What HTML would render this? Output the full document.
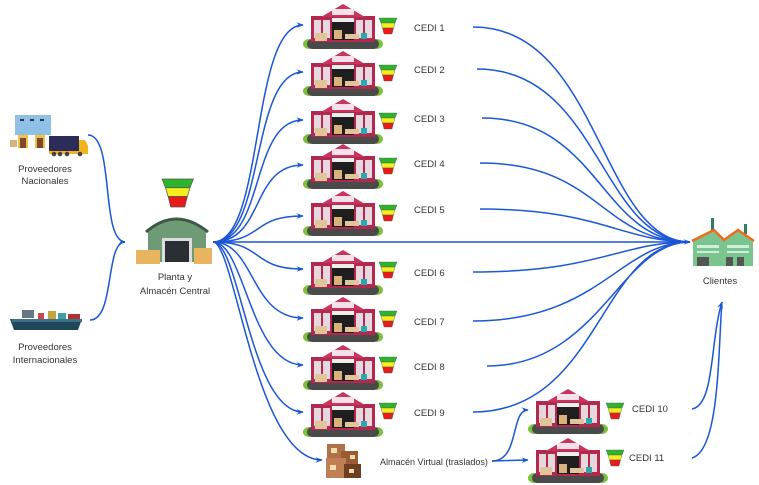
<!DOCTYPE html>
<html><head><meta charset="utf-8"><style>
body{margin:0;background:#fff}
svg{display:block}
text{font-family:"Liberation Sans",sans-serif;font-size:9.5px;fill:#333}
</style></head><body>
<svg width="759" height="485" viewBox="0 0 759 485" xmlns="http://www.w3.org/2000/svg">
<defs>
<marker id="ar" viewBox="0 0 10 10" refX="9" refY="5" markerWidth="7" markerHeight="7" orient="auto-start-reverse" markerUnits="userSpaceOnUse"><path d="M0,1 L10,5 L0,9 L3,5z" fill="#1a56d6"/></marker>
<g id="wh">
<ellipse cx="6" cy="40" rx="6" ry="5" fill="#7cc13c"/>
<ellipse cx="74" cy="40" rx="6" ry="5" fill="#7cc13c"/>
<rect x="4" y="35" width="72" height="10" rx="5" fill="#4a4a4a"/>
<rect x="8" y="12" width="64" height="26" fill="#b3284f"/>
<polygon points="18,13 40,0 62,13" fill="#c8345c"/>
<rect x="29" y="5" width="22" height="6" fill="#f6e1ea"/>
<rect x="11" y="16" width="7" height="18" fill="#e7d8df"/>
<rect x="20" y="16" width="7" height="18" fill="#e7d8df"/>
<rect x="53" y="16" width="7" height="18" fill="#e7d8df"/>
<rect x="62" y="16" width="7" height="18" fill="#e7d8df"/>
<rect x="29" y="14" width="22" height="4" fill="#eee"/>
<rect x="29" y="18" width="22" height="18" fill="#1e1e1e"/>
<rect x="31" y="26" width="8" height="9" fill="#d9b27c"/>
<rect x="12" y="29" width="12" height="8" fill="#e0c49a"/>
<rect x="42" y="30" width="14" height="5" fill="#e0c49a"/>
<rect x="58" y="29" width="6" height="6" fill="#2aa9a9"/>
</g>
<g id="fn">
<polygon points="0,0 18,0 16,5 2,5" fill="#2cb52c" stroke="#555" stroke-width=".4"/>
<polygon points="2,5 16,5 14.5,10 3.5,10" fill="#f2ef1a" stroke="#555" stroke-width=".4"/>
<polygon points="3.5,10 14.5,10 13,16 5,16" fill="#e81a1a" stroke="#555" stroke-width=".4"/>
</g>
</defs>

<g fill="none" stroke="#1a56d6" stroke-width="1.5">
<path d="M88,135 C115,135 100,240 125,242" marker-end="url(#ar)"/>
<path d="M90,320 C115,320 105,242 125,242"/>
<path d="M213,242 C265,242 250,25 303,25" marker-end="url(#ar)"/>
<path d="M213,242 C265,242 250,72 303,72" marker-end="url(#ar)"/>
<path d="M213,242 C265,242 250,120 303,120" marker-end="url(#ar)"/>
<path d="M213,242 C265,242 250,165 303,165" marker-end="url(#ar)"/>
<path d="M213,242 C265,242 250,216 303,216" marker-end="url(#ar)"/>
<path d="M213,242 C265,242 250,269 303,269" marker-end="url(#ar)"/>
<path d="M213,242 C255,242 250,318 303,318" marker-end="url(#ar)"/>
<path d="M213,242 C245,242 250,365 303,365" marker-end="url(#ar)"/>
<path d="M213,242 C240,242 250,412 303,412" marker-end="url(#ar)"/>
<path d="M213,242 C235,242 255,460 322,460" marker-end="url(#ar)"/>
<path d="M213,242 L690,242" marker-end="url(#ar)"/>
<path d="M473,27 C600,27 600,241 690,242"/>
<path d="M477,69 C600,69 600,241 690,242"/>
<path d="M482,118 C600,118 600,241 690,242"/>
<path d="M480,163 C600,163 600,241 690,242"/>
<path d="M480,209 C600,209 620,241 690,242"/>
<path d="M473,272 C600,272 620,242 690,242"/>
<path d="M473,321 C600,321 620,242 690,242"/>
<path d="M487,366 C600,366 620,242 690,242"/>
<path d="M473,412 C600,412 600,242 690,242"/>
<path d="M492,461 C520,461 510,410 528,410" marker-end="url(#ar)"/>
<path d="M492,461 L528,460" marker-end="url(#ar)"/>
<path d="M692,409 C715,405 710,340 722,302" marker-end="url(#ar)"/>
<path d="M692,458 C720,450 718,350 722,302"/>
</g>

<use href="#wh" x="303" y="4"/><use href="#fn" x="379" y="18"/>
<use href="#wh" x="303" y="51"/><use href="#fn" x="379" y="65"/>
<use href="#wh" x="303" y="99"/><use href="#fn" x="379" y="113"/>
<use href="#wh" x="303" y="144"/><use href="#fn" x="379" y="158"/>
<use href="#wh" x="303" y="191"/><use href="#fn" x="379" y="205"/>
<use href="#wh" x="303" y="250"/><use href="#fn" x="379" y="262"/>
<use href="#wh" x="303" y="297"/><use href="#fn" x="379" y="311"/>
<use href="#wh" x="303" y="345"/><use href="#fn" x="379" y="357"/>
<use href="#wh" x="303" y="392"/><use href="#fn" x="379" y="403"/>
<use href="#wh" x="528" y="389"/><use href="#fn" x="606" y="403"/>
<use href="#wh" x="528" y="438"/><use href="#fn" x="606" y="450"/>

<text x="414" y="31">CEDI 1</text>
<text x="414" y="73">CEDI 2</text>
<text x="414" y="122">CEDI 3</text>
<text x="414" y="167">CEDI 4</text>
<text x="414" y="213">CEDI 5</text>
<text x="414" y="276">CEDI 6</text>
<text x="414" y="325">CEDI 7</text>
<text x="414" y="370">CEDI 8</text>
<text x="414" y="416">CEDI 9</text>
<text x="632" y="412">CEDI 10</text>
<text x="629" y="461">CEDI 11</text>
<text x="380" y="465" style="font-size:9px">Almacén Virtual (traslados)</text>

<rect x="327" y="444" width="18" height="16" fill="#b07048"/>
<rect x="341" y="451" width="17" height="20" fill="#9a5a34"/>
<rect x="326" y="458" width="20" height="20" fill="#c07e55"/>
<rect x="344" y="464" width="17" height="14" fill="#6e3e22"/>
<rect x="331" y="448" width="6" height="5" fill="#f2dcae"/>
<rect x="330" y="465" width="6" height="5" fill="#f2dcae"/>
<rect x="350" y="455" width="5" height="4" fill="#f2dcae"/>
<rect x="349" y="469" width="5" height="4" fill="#f2dcae"/>

<rect x="15" y="115" width="36" height="20" fill="#8fc0e6"/>
<rect x="20" y="119" width="4" height="2" fill="#334"/><rect x="30" y="119" width="4" height="2" fill="#334"/><rect x="40" y="119" width="4" height="2" fill="#334"/>
<rect x="18" y="135" width="10" height="13" fill="#f4c04c"/><rect x="35" y="135" width="10" height="13" fill="#f4c04c"/>
<rect x="20" y="138" width="6" height="10" fill="#7a4a2a"/><rect x="37" y="138" width="6" height="10" fill="#7a4a2a"/>
<rect x="10" y="140" width="7" height="7" fill="#d9b27c"/>
<rect x="49" y="136" width="30" height="16" fill="#2c2c5a"/>
<polygon points="79,140 85,140 88,146 88,152 79,152" fill="#f4b21c"/>
<rect x="49" y="151" width="39" height="3" fill="#f4b21c"/>
<circle cx="54" cy="154" r="2.3" fill="#444"/><circle cx="60" cy="154" r="2.3" fill="#444"/><circle cx="67" cy="154" r="2.3" fill="#444"/><circle cx="80" cy="154" r="2.3" fill="#444"/>
<text x="45" y="172" text-anchor="middle">Proveedores</text>
<text x="45" y="184" text-anchor="middle">Nacionales</text>

<rect x="22" y="310" width="12" height="8" fill="#68767f"/>
<rect x="38" y="313" width="6" height="6" fill="#c44"/><rect x="48" y="311" width="8" height="8" fill="#c4a43c"/><rect x="58" y="313" width="8" height="6" fill="#3aa0a0"/><rect x="68" y="314" width="12" height="5" fill="#a33"/>
<polygon points="10,319 82,319 78,330 14,330" fill="#20465a"/>
<rect x="12" y="319" width="70" height="3" fill="#3b6f8a"/>
<text x="45" y="350" text-anchor="middle">Proveedores</text>
<text x="45" y="363" text-anchor="middle">Internacionales</text>

<g transform="translate(162,179) scale(1.75)"><use href="#fn"/></g>
<path d="M148,262 L148,230 Q176,208 206,230 L206,262z" fill="#6e9a76"/>
<path d="M146,232 Q176,206 208,232" fill="none" stroke="#3d5a46" stroke-width="3"/>
<rect x="162" y="238" width="30" height="24" fill="#ddd"/>
<rect x="165" y="241" width="24" height="21" fill="#2a2f33"/>
<rect x="136" y="250" width="24" height="14" fill="#e8b460"/>
<rect x="194" y="248" width="18" height="16" fill="#e8b460"/>
<text x="175" y="280" text-anchor="middle">Planta y</text>
<text x="175" y="294" text-anchor="middle">Almacén Central</text>

<rect x="711" y="218" width="3" height="12" fill="#2e7d6d"/>
<rect x="744" y="224" width="3" height="10" fill="#2e7d6d"/>
<polygon points="693,240 714,230 724,240 738,230 753,240 753,266 693,266" fill="#7ac48e"/>
<polyline points="692,241 714,230 724,240 738,230 754,241" fill="none" stroke="#f26a1b" stroke-width="2.5"/>
<rect x="697" y="245" width="22" height="3" fill="#cfeedd"/><rect x="727" y="245" width="22" height="3" fill="#cfeedd"/>
<rect x="697" y="251" width="22" height="2" fill="#cfeedd"/><rect x="727" y="251" width="22" height="2" fill="#cfeedd"/>
<rect x="697" y="257" width="12" height="9" fill="#555"/><rect x="726" y="257" width="7" height="9" fill="#555"/><rect x="737" y="257" width="7" height="9" fill="#555"/>
<text x="720" y="284" text-anchor="middle">Clientes</text>
</svg>
</body></html>
